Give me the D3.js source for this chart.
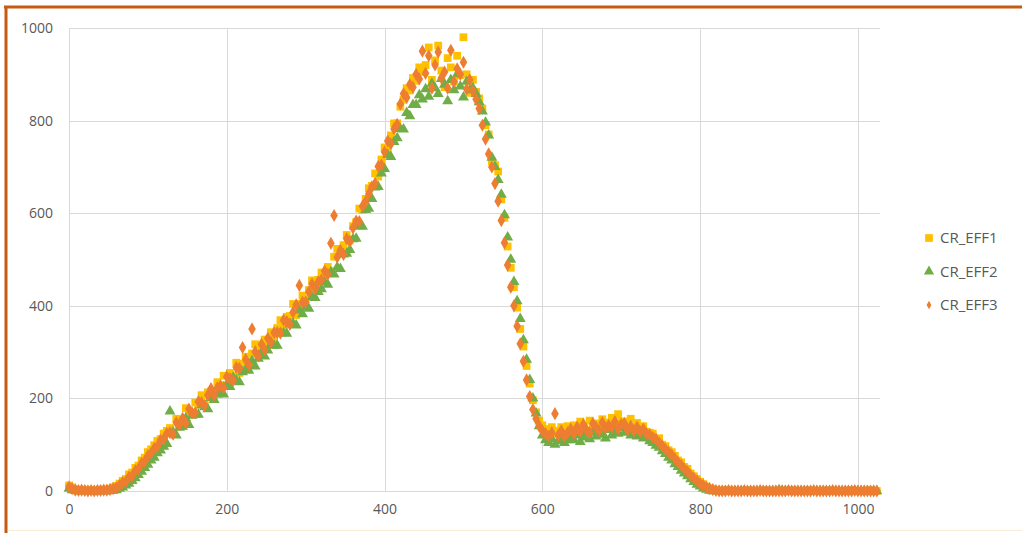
<!DOCTYPE html>
<html>
<head>
<meta charset="utf-8">
<script src="https://cdn.jsdelivr.net/npm/d3@7"></script>
<style>
	body { margin: 0; background: #fff; }
	text { font-family: "Open Sans", "Liberation Sans", sans-serif; fill: #595959; }
</style>
</head>
<body>
<div id="chart"></div>
<script>
	///////////////////////////////////////////////////////////////////////////
	/////////////////////////////////// Data //////////////////////////////////
	///////////////////////////////////////////////////////////////////////////

	//sample number along the x axis, one reading every 4 samples
	var sampleX = d3.range(0, 1025, 4);

	var xTicks = [0, 200, 400, 600, 800, 1000];
	var yTicks = [0, 200, 400, 600, 800, 1000];
	var seriesNames = ["CR_EFF1", "CR_EFF2", "CR_EFF3"];

	var crEff1 = [
		12,8,4,2,1,2,1,2,0,1,3,2,3,5,8,11,
		16,22,26,36,40,50,55,66,72,84,90,99,108,112,124,130,
		136,125,156,149,141,179,171,167,191,187,207,189,213,215,203,235,
		229,249,229,255,249,277,255,275,290,278,297,317,296,313,327,322,
		343,328,352,369,357,376,378,404,380,404,422,414,434,455,435,456,
		472,467,484,475,506,523,516,531,553,541,572,581,610,607,631,654,
		659,686,679,716,742,740,768,794,794,830,845,870,865,892,886,915,
		905,920,958,888,930,962,908,872,935,915,884,940,898,980,900,860,
		888,862,848,826,790,770,712,704,690,630,590,528,482,440,396,350,
		312,270,232,196,170,152,142,134,126,138,124,130,138,128,140,132,
		142,128,150,136,131,152,140,146,138,155,141,148,158,142,166,150,
		150,142,156,138,147,130,140,128,126,124,112,114,100,97,88,84,
		76,66,62,52,48,38,32,26,20,15,10,6,4,2,1,1,
		1,0,1,0,0,1,0,0,1,0,0,0,1,0,0,0,
		0,1,0,0,0,0,1,0,0,0,1,0,0,0,0,1,
		0,0,0,1,0,0,0,0,1,0,0,0,0,0,1,0,
		0
	];

	var crEff2 = [
		5,2,1,0,0,0,0,0,0,0,0,0,0,1,1,2,
		5,8,12,16,22,28,35,42,50,57,66,72,82,88,96,102,
		172,127,120,137,139,157,143,163,165,165,185,181,177,201,197,209,
		211,209,229,225,245,239,235,257,262,260,281,269,286,299,291,304,
		317,314,314,341,341,340,360,362,358,390,382,398,394,419,417,430,
		436,451,446,473,468,483,480,511,513,521,544,545,572,571,607,610,
		631,656,657,686,696,726,722,754,762,782,781,817,810,834,834,855,
		846,868,852,880,870,858,890,878,842,888,866,900,874,850,884,866,
		870,858,840,820,796,768,720,700,672,640,596,548,500,452,410,372,
		326,284,240,200,168,140,120,110,104,112,100,108,114,104,110,118,
		110,120,106,116,124,112,126,118,130,122,114,132,120,128,124,136,
		126,132,120,128,118,124,114,118,108,104,98,94,86,80,72,66,
		58,52,44,38,32,26,20,14,10,6,3,1,0,0,0,0,
		0,0,0,0,0,0,0,0,0,0,0,0,0,0,0,0,
		0,2,1,0,0,0,0,0,0,0,0,0,0,0,0,0,
		0,0,0,0,0,0,0,0,0,0,0,0,0,0,0,0,
		0
	];

	var crEff3 = [
		9,5,2,1,2,1,0,1,0,1,1,2,2,3,5,7,
		12,18,20,30,32,44,48,60,64,76,82,92,96,110,112,124,
		126,123,148,143,157,147,177,169,169,193,191,185,207,221,207,223,
		227,223,247,243,239,267,265,310,284,272,350,301,292,317,305,330,
		321,342,342,341,369,366,360,386,402,444,408,408,430,447,437,452,
		456,475,468,535,595,505,520,511,545,539,568,583,582,615,625,642,
		657,664,701,704,732,756,750,782,792,836,858,850,878,872,900,890,
		950,902,940,870,920,948,892,905,870,952,884,912,900,926,868,888,
		864,846,826,790,760,728,700,664,626,584,536,488,440,400,356,318,
		280,240,204,176,156,140,130,124,118,126,167,120,130,118,126,134,
		124,138,128,144,132,126,146,138,130,148,136,142,138,150,134,144,
		146,132,140,130,138,128,134,124,122,116,112,104,98,90,84,78,
		70,62,56,48,42,34,28,22,16,12,8,5,3,1,0,0,
		0,1,0,0,0,0,1,0,0,0,0,1,0,0,0,0,
		0,0,0,0,1,0,0,0,0,0,0,0,1,0,0,0,
		0,0,1,0,0,0,0,0,0,1,0,0,0,0,0,0,
		0
	];

	///////////////////////////////////////////////////////////////////////////
	//////////////////// Set up and initiate svg containers ///////////////////
	///////////////////////////////////////////////////////////////////////////

	var width = 1022,
		height = 533;

	var svg = d3.select("#chart")
		.append("svg")
		.attr("width", width)
		.attr("height", height);

	//Excel selection frame, only top and left edges are visible
	svg.append("line")
		.attr("x1", 4).attr("x2", width)
		.attr("y1", 7).attr("y2", 7)
		.style("stroke", "#C55A11")
		.style("stroke-width", 3);
	svg.append("line")
		.attr("x1", 6).attr("x2", 6)
		.attr("y1", 6).attr("y2", height)
		.style("stroke", "#C55A11")
		.style("stroke-width", 3);
	svg.append("line")
		.attr("x1", 8).attr("x2", width)
		.attr("y1", 530.5).attr("y2", 530.5)
		.style("stroke", "#FCEBD6")
		.style("stroke-width", 1);

	var x = d3.scaleLinear()
		.domain([0, 1028])
		.range([69, 880]);

	var y = d3.scaleLinear()
		.domain([0, 1000])
		.range([491, 28]);

	///////////////////////////////////////////////////////////////////////////
	////////////////////////////// Grid and axes //////////////////////////////
	///////////////////////////////////////////////////////////////////////////

	var grid = svg.append("g").attr("class", "grid");

	grid.selectAll(".hGrid")
		.data(yTicks)
		.enter().append("line")
		.attr("x1", x(0)).attr("x2", x(1028))
		.attr("y1", function(d) { return Math.round(y(d)) + 0.5; })
		.attr("y2", function(d) { return Math.round(y(d)) + 0.5; })
		.style("stroke", "#D9D9D9");

	grid.selectAll(".vGrid")
		.data(xTicks)
		.enter().append("line")
		.attr("y1", y(0)).attr("y2", y(1000))
		.attr("x1", function(d) { return Math.round(x(d)) + 0.5; })
		.attr("x2", function(d) { return Math.round(x(d)) + 0.5; })
		.style("stroke", "#D9D9D9");

	var yAxis = d3.axisLeft(y).tickValues(yTicks).tickFormat(d3.format("d")).tickSize(0).tickPadding(16);
	svg.append("g")
		.attr("transform", "translate(" + x(0) + ",0)")
		.call(yAxis)
		.call(function(g) { g.select(".domain").remove(); })
		.selectAll("text")
		.style("font-size", "14px")
		.style("font-family", null)
		.style("fill", "#595959");

	var xAxis = d3.axisBottom(x).tickValues(xTicks).tickFormat(d3.format("d")).tickSize(0).tickPadding(13);
	svg.append("g")
		.attr("transform", "translate(0," + y(0) + ")")
		.call(xAxis)
		.call(function(g) { g.select(".domain").remove(); })
		.selectAll("text")
		.style("font-size", "14px")
		.style("font-family", null)
		.style("fill", "#595959");

	///////////////////////////////////////////////////////////////////////////
	///////////////////////////////// Markers /////////////////////////////////
	///////////////////////////////////////////////////////////////////////////

	var series = [
		{ name: seriesNames[0], values: crEff1, color: "#FFC000", shape: d3.symbolSquare, size: 60, legendSize: 60 },
		{ name: seriesNames[1], values: crEff2, color: "#70AD47", shape: d3.symbolTriangle, size: 52, legendSize: 46 },
		{ name: seriesNames[2], values: crEff3, color: "#ED7D31", shape: d3.symbolDiamond, size: 50, legendSize: 20 }
	];

	series.forEach(function(s) {
		var sym = d3.symbol().type(s.shape).size(s.size);
		svg.append("g")
			.attr("class", "series")
			.selectAll("path")
			.data(s.values)
			.enter().append("path")
			.attr("d", sym)
			.attr("transform", function(d, i) { return "translate(" + x(sampleX[i]) + "," + y(d) + ")"; })
			.style("fill", s.color);
	});

	///////////////////////////////////////////////////////////////////////////
	////////////////////////////////// Legend /////////////////////////////////
	///////////////////////////////////////////////////////////////////////////

	var legend = svg.append("g")
		.attr("class", "legend")
		.attr("transform", "translate(929,238)");

	var legendItem = legend.selectAll(".legendItem")
		.data(series)
		.enter().append("g")
		.attr("transform", function(d, i) { return "translate(0," + (i * 33.5) + ")"; });

	legendItem.append("path")
		.attr("d", function(d) { return d3.symbol().type(d.shape).size(d.legendSize)(); })
		.style("fill", function(d) { return d.color; });

	legendItem.append("text")
		.attr("x", 11)
		.attr("dy", "0.35em")
		.style("font-size", "15px")
		.text(function(d) { return d.name; });
</script>
</body>
</html>
